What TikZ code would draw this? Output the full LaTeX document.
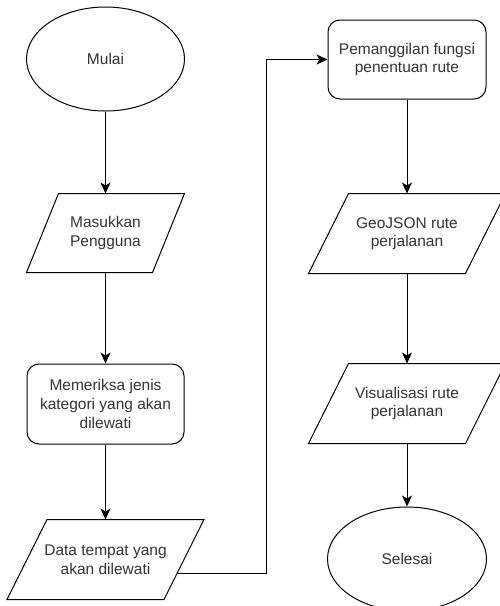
\documentclass[tikz,border=0pt]{standalone}
\usepackage{fontspec}
\setmainfont{Liberation Sans}
\usetikzlibrary{positioning, arrows.meta, shapes.geometric, calc}

% parallelogram outline around a (borderless) node: name, slant
\newcommand{\slantbox}[2]{%
    \draw[line width=1pt] ($(#1.north west)+(#2/2,0)$) -- ($(#1.north east)+(#2/2,0)$)
        -- ($(#1.south east)-(#2/2,0)$) -- ($(#1.south west)-(#2/2,0)$) -- cycle;}

\begin{document}
\begin{tikzpicture}[
        x=1pt, y=1pt,
        every node/.style={draw, line width=1pt, align=center, text=black!80,
            font=\fontsize{15.5}{18.6}\selectfont, inner sep=0pt},
        terminal/.style={ellipse, minimum width=158pt, minimum height=104pt},
        process/.style={rectangle, rounded corners=12pt, minimum width=157pt, minimum height=80pt},
        io/.style={rectangle, draw=none, minimum width=156pt, minimum height=79pt},
        flow/.style={draw, line width=1pt, -{Stealth[length=11pt, width=10pt, inset=3pt]}}
    ]
    \useasboundingbox (0,0) rectangle (499,-606);
    % left column
    \node[terminal] (Mulai) at (105.5,-59) {Mulai};
    \node[io, minimum width=125pt, minimum height=78pt, below=82pt of Mulai] (Masukan)
        {Masukkan\\Pengguna};
    \node[process, below=91pt of Masukan] (Periksa) {Memeriksa jenis\\kategori yang akan\\dilewati};
    \node[io, below=75pt of Periksa] (Data) {Data tempat yang\\akan dilewati};
    % right column
    \node[process, minimum width=158pt, minimum height=79pt] (Panggil) at (407,-59.5)
        {Pemanggilan fungsi\\penentuan rute};
    \node[io, below=94pt of Panggil] (Geo) {GeoJSON rute\\perjalanan};
    \node[io, below=90pt of Geo] (Visual) {Visualisasi rute\\perjalanan};
    \node[terminal, minimum width=159pt, below=63pt of Visual] (Selesai) {Selesai};

    \slantbox{Masukan}{32}
    \slantbox{Data}{40}
    \slantbox{Geo}{40}
    \slantbox{Visual}{40}

    \draw[flow] (Mulai) -- (Masukan);
    \draw[flow] (Masukan) -- (Periksa);
    \draw[flow] (Periksa) -- (Data);
    \draw[flow] ($(Data.east)+(-7,-14)$) -- ++(89,0) |- (Panggil.west);
    \draw[flow] (Panggil) -- (Geo);
    \draw[flow] (Geo) -- (Visual);
    \draw[flow] (Visual) -- (Selesai);
\end{tikzpicture}
\end{document}
